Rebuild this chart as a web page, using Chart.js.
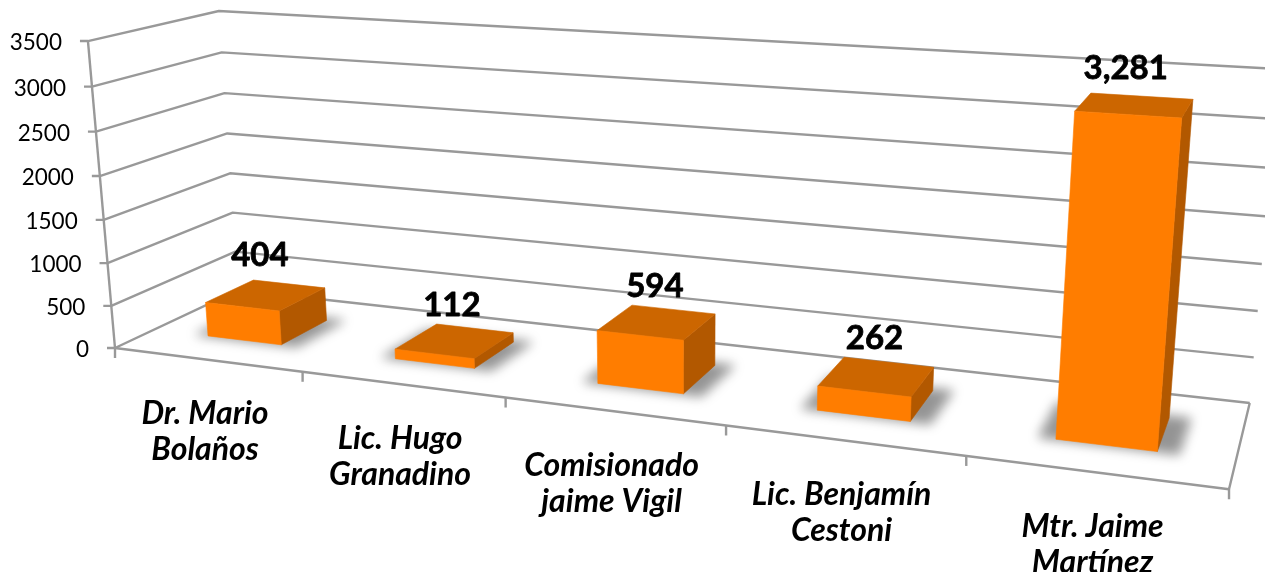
<!DOCTYPE html>
<html>
<head>
<meta charset="utf-8">
<style>
    html, body { margin: 0; padding: 0; background: #fff; }
    #wrap { width: 1265px; height: 572px; }
</style>
<script src="https://cdn.jsdelivr.net/npm/chart.js@4"></script>
</head>
<body>
<div id="wrap"><canvas id="chart"></canvas></div>
<script>
const CATEGORIES = [
    ['Dr. Mario', 'Bolaños'],
    ['Lic. Hugo', 'Granadino'],
    ['Comisionado', 'jaime Vigil'],
    ['Lic. Benjamín', 'Cestoni'],
    ['Mtr. Jaime', 'Martínez'],
];
const VALUES = [404, 112, 594, 262, 3281];
const Y_MAX = 3500;
const Y_STEP = 500;

const THEME = {
    grid: '#999999',
    front: '#ff7d00',
    top: '#cc6600',
    side: '#b25800',
    shadow: 'rgba(0, 0, 0, 0.42)',
    text: '#000',
    font: 'Lato',
};

// camera for the 3D box: u along categories, v up, w into the page (all 0..1)
const CAM = {
    x: [115, 880.5, -31, 148],
    y: [348, 48.3, -308.8, -27.5],
    h: [1, -0.19, -0.045, 0.105],
};

const BAR_DEPTH = [0.3, 0.7]; // gap depth 150%

// data labels do not sit exactly over the bars, excel pushes them around a bit
const LABEL_NUDGE = [[-6, -3], [-3, 1], [-2, 1], [-2, -1], [-9, 0]];

function project(u, v, w) {
    const dot = (c) => c[0] + c[1] * u + c[2] * v + c[3] * w;
    const h = dot(CAM.h);
    return { x: dot(CAM.x) / h, y: dot(CAM.y) / h };
}

function poly(ctx, pts, fill) {
    ctx.beginPath();
    pts.forEach((p, i) => (i ? ctx.lineTo(p.x, p.y) : ctx.moveTo(p.x, p.y)));
    ctx.closePath();
    ctx.fillStyle = fill;
    ctx.fill();
    ctx.strokeStyle = fill;
    ctx.lineWidth = 0.6;
    ctx.stroke();
}

function line(ctx, pts) {
    ctx.beginPath();
    pts.forEach((p, i) => (i ? ctx.lineTo(p.x, p.y) : ctx.moveTo(p.x, p.y)));
    ctx.stroke();
}

function drawWalls(ctx, yScale, xScale) {
    ctx.strokeStyle = THEME.grid;
    ctx.lineWidth = 2.4;
    ctx.lineJoin = 'round';

    const vOf = (val) => val / yScale.max;

    // gridlines run along the side wall then the back wall
    yScale.ticks.forEach((t) => {
        const v = vOf(t.value);
        const a = project(0, v, 0);
        line(ctx, [{ x: a.x - 8, y: a.y }, a, project(0, v, 1), project(1, v, 1)]);
    });

    line(ctx, [project(0, 0, 0), project(0, 1, 0)]);
    line(ctx, [project(0, 0, 0), project(1, 0, 0), project(1, 0, 1)]);

    // category separators under the front edge
    const n = xScale.ticks.length;
    for (let i = 0; i <= n; i++) {
        const p = project(i / n, 0, 0);
        line(ctx, [p, { x: p.x, y: p.y + 10 }]);
    }
}

function drawBars(ctx, meta, area) {
    const [w0, w1] = BAR_DEPTH;
    const boxes = meta.data.map((el) => ({
        u0: (el.x - el.width / 2 - area.left) / area.width,
        u1: (el.x + el.width / 2 - area.left) / area.width,
        v: (el.base - el.y) / area.height,
    }));

    // soft shadows on the floor
    ctx.save();
    ctx.filter = 'blur(6px)';
    boxes.forEach((b) => {
        poly(ctx, [
            project(b.u0 - 0.014, 0, w0 - 0.005),
            project(b.u1 + 0.017, 0, w0 - 0.005),
            project(b.u1 + 0.017, 0, w1 + 0.03),
            project(b.u0 - 0.014, 0, w1 + 0.03),
        ], THEME.shadow);
    });
    ctx.restore();

    boxes.forEach((b) => {
        poly(ctx, [project(b.u1, 0, w0), project(b.u1, 0, w1), project(b.u1, b.v, w1), project(b.u1, b.v, w0)], THEME.side);
        poly(ctx, [project(b.u0, b.v, w0), project(b.u1, b.v, w0), project(b.u1, b.v, w1), project(b.u0, b.v, w1)], THEME.top);
        poly(ctx, [project(b.u0, 0, w0), project(b.u1, 0, w0), project(b.u1, b.v, w0), project(b.u0, b.v, w0)], THEME.front);
    });

    return boxes;
}

function drawLabels(ctx, chart, boxes) {
    const { x: xScale, y: yScale } = chart.scales;
    ctx.fillStyle = THEME.text;
    ctx.strokeStyle = THEME.text;
    ctx.textBaseline = 'middle';

    ctx.textAlign = 'right';
    ctx.font = `22.5px ${THEME.font}`;
    yScale.ticks.forEach((t) => {
        const p = project(0, t.value / yScale.max, 0);
        ctx.fillText(t.label, p.x - 26, p.y + 2);
    });

    ctx.textAlign = 'center';
    ctx.font = `italic bold 32px ${THEME.font}`;
    const n = xScale.ticks.length;
    xScale.ticks.forEach((t, i) => {
        const p = project((i + 0.5) / n, 0, 0);
        t.label.forEach((txt, j) => ctx.fillText(txt, p.x - 2, p.y + 54 + j * 36));
    });

    ctx.font = `bold 33px ${THEME.font}`;
    ctx.lineWidth = 0.8;
    boxes.forEach((b, i) => {
        const p = project((b.u0 + b.u1) / 2, b.v, 0.5);
        const [dx, dy] = LABEL_NUDGE[i];
        const txt = VALUES[i].toLocaleString('en-US');
        ctx.fillText(txt, p.x + dx, p.y - 37 + dy);
        ctx.strokeText(txt, p.x + dx, p.y - 37 + dy);
    });
}

const box3d = {
    id: 'box3d',
    beforeDatasetsDraw(chart) {
        const ctx = chart.ctx;
        ctx.save();
        drawWalls(ctx, chart.scales.y, chart.scales.x);
        const boxes = drawBars(ctx, chart.getDatasetMeta(0), chart.chartArea);
        drawLabels(ctx, chart, boxes);
        ctx.restore();
        return false; // flat bars replaced by the projected ones
    },
};

new Chart(document.getElementById('chart'), {
    type: 'bar',
    data: {
        labels: CATEGORIES,
        datasets: [{
            data: VALUES,
            backgroundColor: THEME.front,
            categoryPercentage: 0.4,
            barPercentage: 1,
        }],
    },
    options: {
        responsive: true,
        maintainAspectRatio: false,
        animation: false,
        layout: { padding: 0 },
        plugins: { legend: { display: false }, tooltip: { enabled: false } },
        scales: {
            x: { display: false },
            y: {
                display: false,
                min: 0,
                max: Y_MAX,
                ticks: { stepSize: Y_STEP, callback: (v) => String(v) },
            },
        },
    },
    plugins: [box3d],
});
</script>
</body>
</html>
